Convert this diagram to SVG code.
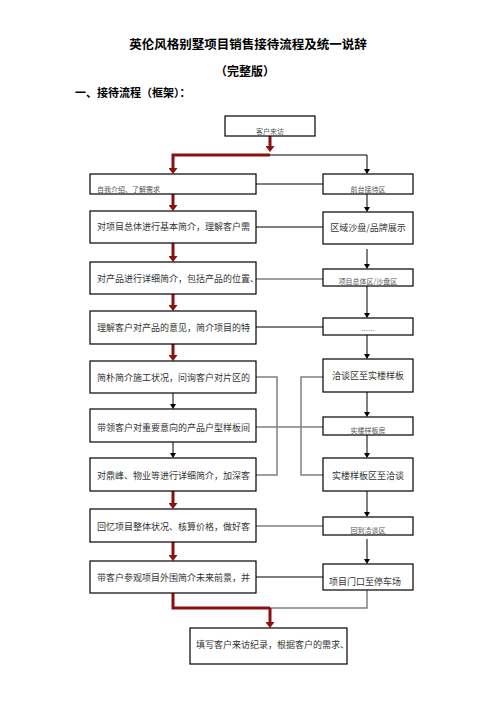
<svg xmlns="http://www.w3.org/2000/svg" width="496" height="702" viewBox="0 0 496 702">
<defs>
<style>
.box{fill:#fff;stroke:#000;stroke-width:1.2}
.t{font-family:"Noto Sans CJK SC","Liberation Sans",sans-serif;font-size:9px;fill:#333}
.ts{font-family:"Noto Sans CJK SC","Liberation Sans",sans-serif;font-size:7px;fill:#555}
.h{font-family:"Noto Sans CJK SC","Liberation Sans",sans-serif;font-weight:bold;fill:#000}
.red{fill:none;stroke:#8b1010;stroke-width:3}
.blk{fill:none;stroke:#000;stroke-width:1}
.gry{fill:none;stroke:#808080;stroke-width:1.5}
</style>
<marker id="ar" markerUnits="userSpaceOnUse" markerWidth="7" markerHeight="9" refX="0" refY="4.5" orient="auto"><path d="M0,0 L6,4.5 L0,9 z" fill="#8b1010"/></marker>
<marker id="ab" markerUnits="userSpaceOnUse" markerWidth="6" markerHeight="6" refX="0" refY="3" orient="auto"><path d="M0,0 L5,3 L0,6 z" fill="#000"/></marker>
</defs>
<rect width="496" height="702" fill="#fff"/>
<text class="h" x="248" y="48.5" font-size="12.5" text-anchor="middle">英伦风格别墅项目销售接待流程及统一说辞</text>
<text class="h" x="245" y="75.5" font-size="12" text-anchor="middle">（完整版）</text>
<text class="h" x="75" y="97" font-size="11">一、接待流程（框架）：</text>

<g id="connectors">
<path class="red" d="M270,136 V146" marker-end="url(#ar)"/>
<path class="red" d="M270,155 H173 V168" marker-end="url(#ar)"/>
<path class="blk" d="M270,155 H367 V169" marker-end="url(#ab)"/>
<path class="red" d="M173,194 V205" marker-end="url(#ar)"/>
<path class="red" d="M173,243 V256" marker-end="url(#ar)"/>
<path class="red" d="M173,294 V305" marker-end="url(#ar)"/>
<path class="red" d="M173,344 V355" marker-end="url(#ar)"/>
<path class="blk" d="M173,393 V404" marker-end="url(#ab)"/>
<path class="blk" d="M173,442 V453" marker-end="url(#ab)"/>
<path class="red" d="M173,491 V503" marker-end="url(#ar)"/>
<path class="red" d="M173,542 V555" marker-end="url(#ar)"/>
<path class="gry" d="M270,608 H367 V590"/>
<path class="red" d="M173,593 V608 H270"/>
<path class="red" d="M270,608 V622" marker-end="url(#ar)"/>
<path class="blk" d="M367,194 V207" marker-end="url(#ab)"/>
<path class="blk" d="M367,249 V264" marker-end="url(#ab)"/>
<path class="blk" d="M367,286 V313" marker-end="url(#ab)"/>
<path class="blk" d="M367,335 V354" marker-end="url(#ab)"/>
<path class="blk" d="M367,392 V412" marker-end="url(#ab)"/>
<path class="blk" d="M367,435 V453" marker-end="url(#ab)"/>
<path class="blk" d="M367,491 V512" marker-end="url(#ab)"/>
<path class="blk" d="M367,539 V559" marker-end="url(#ab)"/>
<path class="blk" d="M256,184 H323"/>
<path class="blk" d="M256,227 H323"/>
<path class="gry" d="M256,279 H323"/>
<path class="blk" d="M256,327 H323"/>
<path class="gry" d="M256,377 H277 V475 H256"/>
<path class="gry" d="M323,377 H301 V475 H323"/>
<path class="gry" d="M256,427 H323"/>
<path class="gry" d="M256,526 H323"/>
<path class="blk" d="M256,577 H323"/>
</g>

<g id="n0"><rect class="box" x="225" y="116" width="90" height="20"/><text class="ts" x="270" y="134" text-anchor="middle">客户来访</text></g>

<g id="l1"><rect class="box" x="90" y="174" width="166" height="20"/><text class="ts" x="97" y="192">自我介绍、了解需求</text></g>
<g id="l2"><rect class="box" x="90" y="211" width="166" height="32"/><text class="t" x="97" y="230">对项目总体进行基本简介，理解客户需</text></g>
<g id="l3"><rect class="box" x="90" y="262" width="166" height="32"/><text class="t" x="97" y="282">对产品进行详细简介，包括产品的位置、</text></g>
<g id="l4"><rect class="box" x="90" y="311" width="166" height="33"/><text class="t" x="97" y="330.5">理解客户对产品的意见，简介项目的特</text></g>
<g id="l5"><rect class="box" x="90" y="361" width="166" height="32"/><text class="t" x="97" y="380.5">简朴简介施工状况，问询客户对片区的</text></g>
<g id="l6"><rect class="box" x="90" y="409" width="166" height="33"/><text class="t" x="97" y="430.5">带领客户对重要意向的产品户型样板间</text></g>
<g id="l7"><rect class="box" x="90" y="458" width="166" height="33"/><text class="t" x="97" y="478.5">对鼎峰、物业等进行详细简介，加深客</text></g>
<g id="l8"><rect class="box" x="90" y="509" width="166" height="33"/><text class="t" x="97" y="529.5">回忆项目整体状况、核算价格，做好客</text></g>
<g id="l9"><rect class="box" x="90" y="561" width="166" height="32"/><text class="t" x="97" y="580.5">带客户参观项目外围简介未来前景，并</text></g>

<g id="r1"><rect class="box" x="323" y="174" width="90" height="20"/><text class="ts" x="368" y="192" text-anchor="middle">前台接待区</text></g>
<g id="r2"><rect class="box" x="323" y="212" width="90" height="32"/><text class="t" x="368" y="231" text-anchor="middle">区域沙盘/品牌展示</text></g>
<g id="r3"><rect class="box" x="323" y="269" width="90" height="17"/><text class="ts" x="368" y="284" text-anchor="middle">项目总体区/沙盘区</text></g>
<g id="r4"><rect class="box" x="323" y="318" width="90" height="17"/><text class="ts" x="368" y="333" text-anchor="middle">……</text></g>
<g id="r5"><rect class="box" x="323" y="359" width="90" height="33"/><text class="t" x="368" y="379" text-anchor="middle">洽谈区至实楼样板</text></g>
<g id="r6"><rect class="box" x="323" y="417" width="90" height="18"/><text class="ts" x="368" y="433" text-anchor="middle">实楼样板房</text></g>
<g id="r7"><rect class="box" x="323" y="458" width="90" height="33"/><text class="t" x="368" y="478.5" text-anchor="middle">实楼样板区至洽谈</text></g>
<g id="r8"><rect class="box" x="323" y="517" width="90" height="18"/><text class="ts" x="368" y="533" text-anchor="middle">回到洽谈区</text></g>
<g id="r9"><rect class="box" x="323" y="564" width="90" height="26"/><text class="t" x="329" y="585">项目门口至停车场</text></g>

<g id="n10"><rect class="box" x="190" y="628" width="157" height="36"/><text class="t" x="196" y="648">填写客户来访纪录，根据客户的需求、</text></g>
</svg>
